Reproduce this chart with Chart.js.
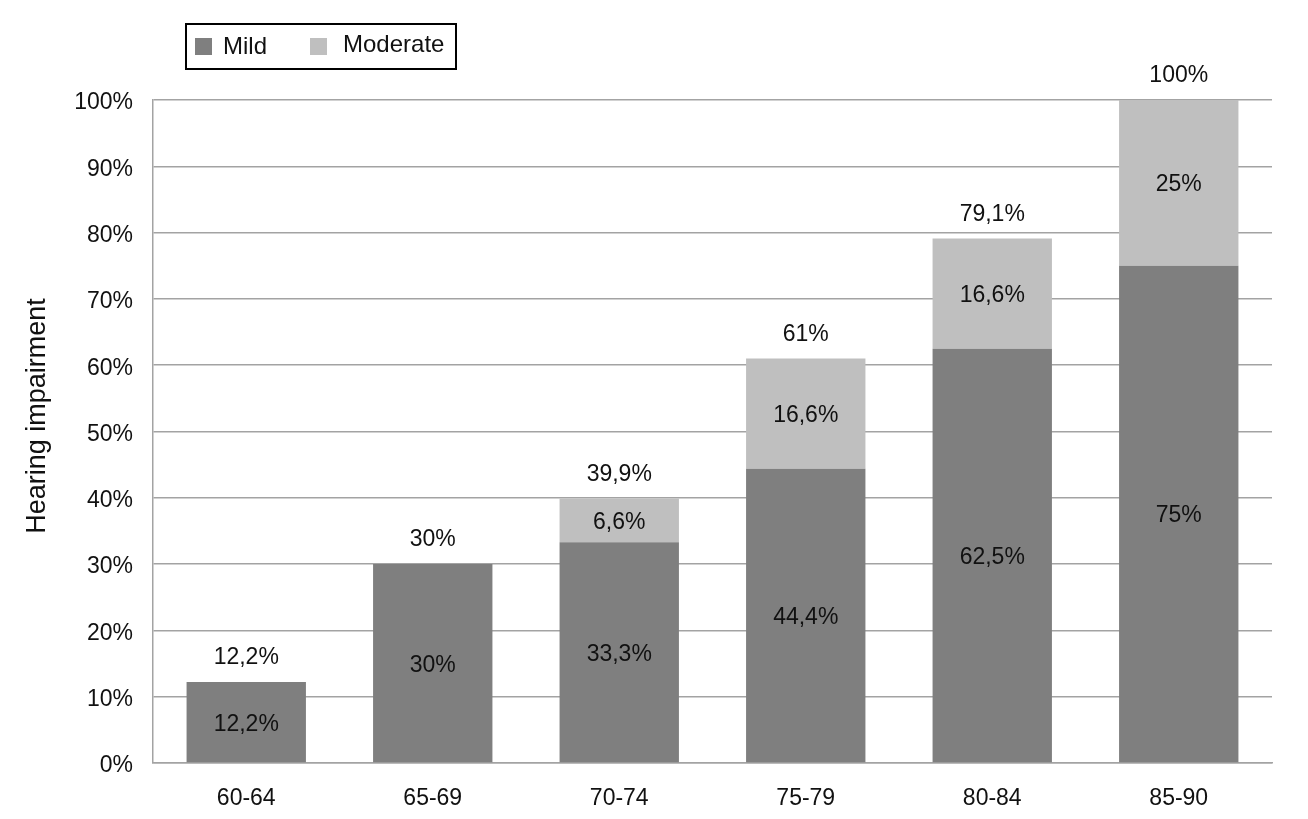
<!DOCTYPE html>
<html>
<head>
<meta charset="utf-8">
<script src="https://cdn.jsdelivr.net/npm/chart.js@4/dist/chart.umd.min.js"></script>
<style>
  html, body { margin: 0; padding: 0; background: #ffffff; }
  #wrap { width: 1308px; height: 819px; }
</style>
</head>
<body>
<div id="wrap"><canvas id="c" width="1308" height="819"></canvas></div>
<script>
const categories = ['60-64', '65-69', '70-74', '75-79', '80-84', '85-90'];
const mildValues = [12.2, 30, 33.3, 44.4, 62.5, 75];
const moderateValues = [0, 0, 6.6, 16.6, 16.6, 25];
const yTicks = [0, 10, 20, 30, 40, 50, 60, 70, 80, 90, 100];
const seriesNames = ['Mild', 'Moderate'];
const seriesColors = ['#7f7f7f', '#bfbfbf'];
const yTitle = 'Hearing impairment';

const FONT = "'Liberation Sans', Arial, Helvetica, sans-serif";
const TEXT = '#111111';
const GRID = '#a3a3a3';

function fmt(v) {
  const r = Math.round(v * 10) / 10;
  return String(r).replace('.', ',') + '%';
}

const labelsPlugin = {
  id: 'barLabels',
  afterDatasetsDraw(chart) {
    const ctx = chart.ctx;
    ctx.save();
    ctx.font = '23px ' + FONT;
    ctx.fillStyle = TEXT;
    ctx.textAlign = 'center';
    ctx.textBaseline = 'middle';
    chart.data.datasets.forEach((ds, di) => {
      const meta = chart.getDatasetMeta(di);
      meta.data.forEach((el, i) => {
        const v = ds.data[i];
        if (!v) return;
        ctx.fillText(fmt(v), el.x, (el.y + el.base) / 2 + 2);
      });
    });
    const y = chart.scales.y;
    const meta0 = chart.getDatasetMeta(0);
    categories.forEach((c, i) => {
      const total = mildValues[i] + moderateValues[i];
      const el = meta0.data[i];
      ctx.fillText(fmt(total), el.x, y.getPixelForValue(total) - 24);
    });
    ctx.restore();
  }
};

const legendPlugin = {
  id: 'boxLegend',
  afterDraw(chart) {
    const ctx = chart.ctx;
    ctx.save();
    // y-axis title
    ctx.translate(38, 416);
    ctx.rotate(-Math.PI / 2);
    ctx.font = '27px ' + FONT;
    ctx.fillStyle = TEXT;
    ctx.textAlign = 'center';
    ctx.textBaseline = 'middle';
    ctx.fillText(yTitle, 0, 0);
    ctx.restore();

    ctx.save();
    ctx.strokeStyle = '#000000';
    ctx.lineWidth = 2;
    ctx.strokeRect(186, 24, 270, 45);
    ctx.font = '24px ' + FONT;
    ctx.textBaseline = 'middle';
    ctx.textAlign = 'left';
    const items = [
      { box: 195, text: 223, ty: 47 },
      { box: 310, text: 343, ty: 45 }
    ];
    chart.data.datasets.forEach((ds, i) => {
      const it = items[i];
      ctx.fillStyle = ds.backgroundColor;
      ctx.fillRect(it.box, 38, 17, 17);
      ctx.fillStyle = TEXT;
      ctx.fillText(ds.label, it.text, it.ty);
    });
    ctx.restore();
  }
};

new Chart(document.getElementById('c'), {
  type: 'bar',
  data: {
    labels: categories,
    datasets: [
      { label: seriesNames[0], data: mildValues, backgroundColor: seriesColors[0], borderWidth: 0 },
      { label: seriesNames[1], data: moderateValues, backgroundColor: seriesColors[1], borderWidth: 0 }
    ]
  },
  options: {
    responsive: false,
    animation: false,
    layout: { padding: { top: 100, right: 36, bottom: 0, left: 0 } },
    plugins: {
      legend: { display: false },
      tooltip: { enabled: false }
    },
    datasets: { bar: { categoryPercentage: 1, barPercentage: 0.64 } },
    scales: {
      x: {
        stacked: true,
        grid: { display: false, drawTicks: false },
        border: { display: true, color: GRID, width: 1.5 },
        ticks: { font: { family: FONT, size: 23 }, color: TEXT, padding: 22 },
        afterFit(s) { s.height = 56; }
      },
      y: {
        stacked: true,
        min: 0,
        max: 100,
        afterBuildTicks(s) { s.ticks = yTicks.map(v => ({ value: v })); },
        grid: { color: GRID, lineWidth: 1.5, drawTicks: false },
        border: { display: true, color: GRID, width: 1.5 },
        ticks: {
          font: { family: FONT, size: 23 }, color: TEXT, padding: 20,
          labelOffset: 3,
          callback: v => v + '%'
        },
        title: { display: false },
        afterFit(s) { s.width = 153; }
      }
    }
  },
  plugins: [labelsPlugin, legendPlugin]
});
</script>
</body>
</html>
